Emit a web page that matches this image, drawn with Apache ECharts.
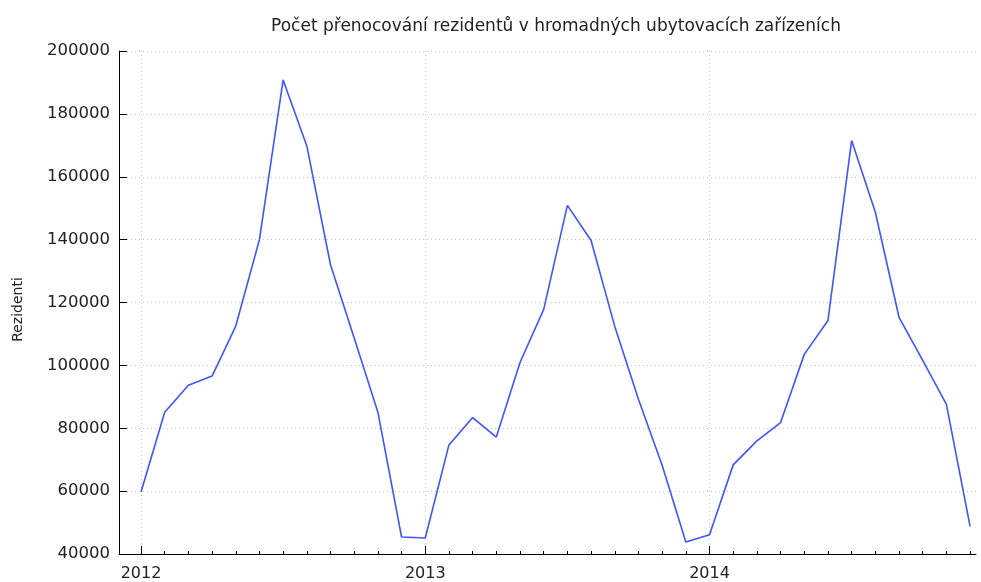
<!DOCTYPE html>
<html>
<head>
<meta charset="utf-8">
<script src="https://cdn.jsdelivr.net/npm/echarts@6/dist/echarts.min.js"></script>
<style>
  html, body { margin: 0; padding: 0; background: #fff; }
  #chart { width: 981px; height: 582px; }
</style>
</head>
<body>
<div id="chart"></div>
<script>
// monthly values, Jan 2012 .. Dec 2014
const years = ['2012', '2013', '2014'];
const values2012 = [59700, 85100, 93700, 96600, 112500, 140000, 190800, 169800, 132000, 108700, 85100, 45400];
const values2013 = [45100, 74700, 83400, 77200, 100900, 117800, 150900, 139700, 112400, 89200, 68250, 43800];
const values2014 = [46100, 68350, 76000, 81800, 103500, 114300, 171500, 148700, 115300, 101600, 87600, 48800];
const yTicks = [40000, 60000, 80000, 100000, 120000, 140000, 160000, 180000, 200000];

const values = values2012.concat(values2013, values2014);
const seriesData = values.map((v, i) => [i, v]);
const yearStarts = years.map((y, i) => i * 12);
const monthTicks = values.map((v, i) => i);

const chart = echarts.init(document.getElementById('chart'));
const font = 'DejaVu Sans';
const dotted = { color: '#c8c8c8', width: 1, type: [1, 3] };

chart.setOption({
  animation: false,
  title: {
    text: 'Počet přenocování rezidentů v hromadných ubytovacích zařízeních',
    left: 551,
    textAlign: 'center',
    top: 13,
    textStyle: { fontFamily: font, fontSize: 17, fontWeight: 'normal', color: '#222' }
  },
  grid: { left: 119, right: 5, top: 51, bottom: 27 },
  xAxis: [
    {
      type: 'value',
      min: -0.929,
      max: 35.25,
      position: 'bottom',
      axisLine: { show: true, onZero: false, lineStyle: { color: '#000', width: 1 } },
      axisTick: { show: true, inside: true, length: 8, customValues: yearStarts, lineStyle: { color: '#000' } },
      axisLabel: {
        customValues: yearStarts,
        formatter: v => years[Math.round(v / 12)],
        margin: 12,
        fontFamily: font,
        fontSize: 16,
        color: '#222'
      },
      splitLine: { show: true, lineStyle: dotted }
    },
    {
      type: 'value',
      min: -0.929,
      max: 35.25,
      position: 'bottom',
      axisLine: { show: false },
      axisTick: { show: true, inside: true, length: 3, customValues: monthTicks, lineStyle: { color: '#000' } },
      axisLabel: { show: false },
      splitLine: { show: false }
    }
  ],
  yAxis: {
    type: 'value',
    min: yTicks[0],
    max: yTicks[yTicks.length - 1],
    interval: 20000,
    name: 'Rezidenti',
    nameLocation: 'middle',
    nameGap: 94,
    nameTextStyle: { fontFamily: font, fontSize: 14, color: '#222', padding: [0, 14, 0, 0] },
    axisLine: { show: true, onZero: false, lineStyle: { color: '#000', width: 1 } },
    axisTick: { show: true, inside: true, length: 8, lineStyle: { color: '#000' } },
    axisLabel: { margin: 9, fontFamily: font, fontSize: 16.5, color: '#222', formatter: v => String(v) },
    splitLine: { show: true, lineStyle: dotted }
  },
  series: [{
    type: 'line',
    xAxisIndex: 0,
    data: seriesData,
    showSymbol: false,
    symbol: 'none',
    lineStyle: { color: '#3d55ff', width: 1.6 },
    itemStyle: { color: '#3d55ff' }
  }]
});
</script>
</body>
</html>
